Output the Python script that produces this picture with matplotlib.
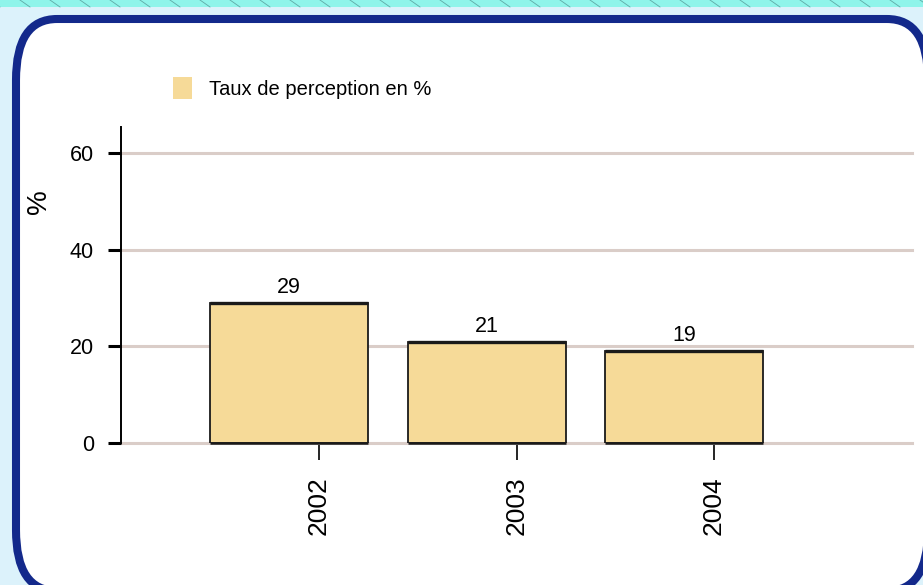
import numpy as np
import matplotlib
matplotlib.use('Agg')
import matplotlib.pyplot as plt
from matplotlib.patches import FancyBboxPatch, Rectangle, Patch
from matplotlib.lines import Line2D
from matplotlib.transforms import Affine2D

# données
annees = ['2002', '2003', '2004']
taux = [29, 21, 19]
yticks = [0, 20, 40, 60]
legende = 'Taux de perception en %'

police = ['Liberation Sans', 'DejaVu Sans']
plt.rcParams['font.family'] = police

W, H = 923, 585
fig = plt.figure(figsize=(W / 100, H / 100), dpi=100)
fig.patch.set_facecolor('#dcf2fb')

# bandeau du haut (fond de diapo)
fig.add_artist(Rectangle((0, H - 7), W, 7, transform=None, facecolor='#8ff4ea',
                         edgecolor='none', zorder=-3))
for xs in range(-10, W, 30):
    fig.add_artist(Line2D([xs, xs + 10], [H, H - 7], transform=None,
                          color='#5fa9a6', lw=0.6, zorder=-2))

# cadre arrondi bleu (coins elliptiques, déborde à droite et en bas)
s = 41 / 61
cadre = FancyBboxPatch((16 / s, -6), (928 - 16) / s, 572,
                       boxstyle='round,pad=0,rounding_size=61',
                       transform=Affine2D().scale(s, 1),
                       facecolor='white', edgecolor='#13298b', lw=5.8, zorder=-1)
fig.add_artist(cadre)

ax = fig.add_axes([121 / W, 1 - 443 / H, (912 - 121) / W, (443 - 127) / H])
ax.set_facecolor('none')

x = np.arange(len(annees))
largeur = 0.8
ax.bar(x, taux, width=largeur, color='#f6da98', edgecolor='#1a1a1a', lw=1.3, zorder=3)
ax.hlines(taux, x - largeur / 2, x + largeur / 2, color='#1a1a1a', lw=2.4, zorder=4)
ax.hlines(np.zeros(len(x)), x - largeur / 2, x + largeur / 2, color='#1a1a1a',
          lw=1.8, zorder=4, clip_on=False)

for xi, v in zip(x, taux):
    ax.text(xi, v + 1.0, str(v), ha='center', va='bottom', fontsize=15.5, color='black')

ax.set_xlim(-0.851, 3.154)
ax.set_ylim(0, 65.4)
ax.set_yticks(yticks)
ax.set_yticklabels([str(t) for t in yticks], fontsize=15.5)
ax.yaxis.grid(True, color='#dacdc8', lw=2.2, zorder=0)
ax.set_axisbelow(True)
for gl in ax.yaxis.get_gridlines():
    gl.set_clip_on(False)

# graduations x décalées comme sur l'original
ax.set_xticks(x + 0.152)
ax.set_xticklabels(annees, rotation=90, fontsize=19, va='top')
ax.tick_params(axis='x', length=12, width=1.2, pad=12, colors='black')
ax.tick_params(axis='y', length=9.4, width=2.2, pad=10, colors='black')

for sp in ['top', 'right', 'bottom']:
    ax.spines[sp].set_visible(False)
ax.spines['left'].set_linewidth(1.4)

ax.set_ylabel('%', fontsize=20, rotation=90, labelpad=0)
ax.yaxis.set_label_coords((52 - 121) / (912 - 121), (443 - 202) / (443 - 127))

fig.legend(handles=[Patch(facecolor='#f6da98', edgecolor='none', label=legende)],
           loc='center left', bbox_to_anchor=(173 / W, 1 - 88 / H),
           bbox_transform=fig.transFigure, frameon=False, fontsize=14.5,
           handlelength=0.95, handleheight=1.35, handletextpad=0.85,
           borderpad=0, borderaxespad=0)

fig.savefig('out.png', dpi=100, facecolor=fig.get_facecolor())
